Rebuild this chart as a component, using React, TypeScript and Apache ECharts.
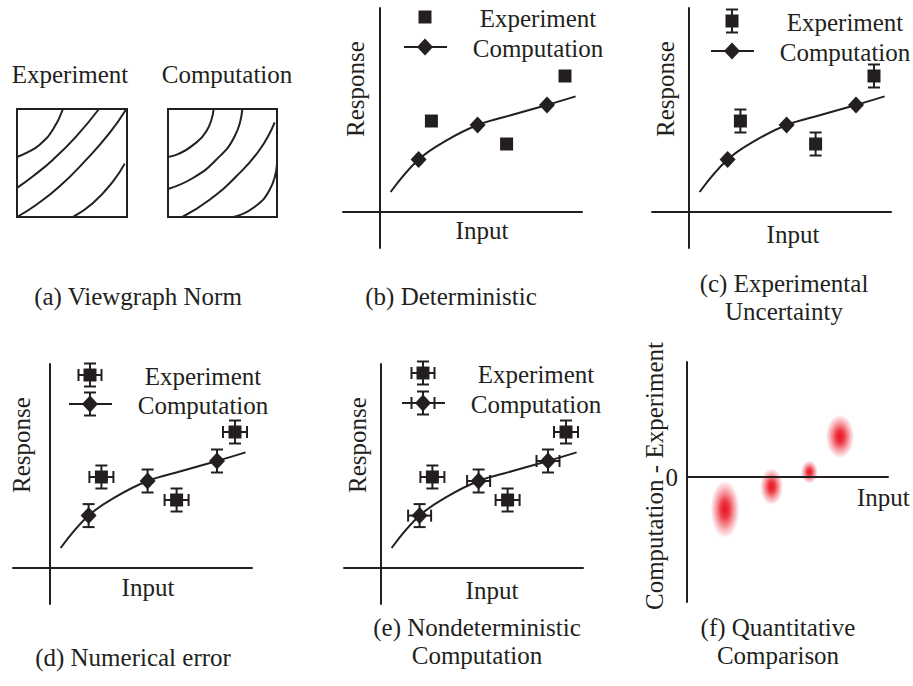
import React, { useEffect, useRef } from 'react';
import * as echarts from 'echarts';

const INK = '#231f20';
const FONT = '"Liberation Serif", "Times New Roman", Times, serif';
const FONT_SIZE = 25;
const CAP = 6;

// (a) Viewgraph norm: contour lines of the two fields, unit-square coordinates [x, y]
const experimentContour1 = [[0.418, 1], [0.327, 0.81], [0.206, 0.67], [0.085, 0.593], [0, 0.556]];
const experimentContour2 = [[0.745, 1], [0.539, 0.747], [0.327, 0.531], [0.145, 0.377], [0, 0.269]];
const experimentContour3 = [[0.994, 1], [0.842, 0.778], [0.63, 0.531], [0.388, 0.284], [0.176, 0.114], [0, 0]];
const experimentContour4 = [[0.979, 0.494], [0.873, 0.33], [0.691, 0.13], [0.509, 0]];
const computationContour1 = [[0.419, 1], [0.352, 0.793], [0.214, 0.654], [0.092, 0.583], [0, 0.556]];
const computationContour2 = [[0.682, 1], [0.612, 0.747], [0.443, 0.531], [0.229, 0.361], [0, 0.26]];
const computationContour3 = [[0.979, 0.877], [0.841, 0.623], [0.627, 0.377], [0.382, 0.16], [0.131, 0]];
const computationContour4 = [[1, 0.485], [0.933, 0.253], [0.78, 0.083], [0.602, 0]];

// (b)-(e) Response versus input
const experimentInput = [2.57, 6.33, 9.25];
const experimentResponse = [4.55, 3.4, 6.8];
const experimentInputError = [0.6, 0.6, 0.6];
const experimentResponseError = [0.575, 0.575, 0.575];
const computationInput = [1.93, 4.88, 8.35];
const computationResponse = [2.62, 4.35, 5.35];
const computationInputError = [0.575, 0.575, 0.575];
const computationResponseError = [0.575, 0.575, 0.575];
const modelInput = [0.53, 1.93, 3.33, 4.88, 6.58, 8.35, 9.78];
const modelResponse = [1.0, 2.62, 3.58, 4.35, 4.85, 5.35, 5.78];

// (f) Computation minus experiment, with spread of the difference
const comparisonInput = [1.9, 4.23, 6.12, 7.65];
const comparisonDifference = [-1.62, -0.48, 0.25, 2.02];
const comparisonInputSpread = [0.76, 0.6, 0.44, 0.74];
const comparisonDifferenceSpread = [1.5, 0.96, 0.6, 1.14];

const captionStyle = {
  fontFamily: FONT,
  fontSize: FONT_SIZE,
  fontWeight: 'normal' as const,
  color: INK,
  lineHeight: 28,
};

const barStyle = { stroke: INK, lineWidth: 2 };

function barShapes(cx: number, cy: number, dx: number, dy: number) {
  const out: any[] = [];
  if (dy > 0) {
    out.push({ type: 'line', shape: { x1: cx, y1: cy - dy, x2: cx, y2: cy + dy }, style: barStyle });
    out.push({ type: 'line', shape: { x1: cx - CAP, y1: cy - dy, x2: cx + CAP, y2: cy - dy }, style: barStyle });
    out.push({ type: 'line', shape: { x1: cx - CAP, y1: cy + dy, x2: cx + CAP, y2: cy + dy }, style: barStyle });
  }
  if (dx > 0) {
    out.push({ type: 'line', shape: { x1: cx - dx, y1: cy, x2: cx + dx, y2: cy }, style: barStyle });
    out.push({ type: 'line', shape: { x1: cx - dx, y1: cy - CAP, x2: cx - dx, y2: cy + CAP }, style: barStyle });
    out.push({ type: 'line', shape: { x1: cx + dx, y1: cy - CAP, x2: cx + dx, y2: cy + CAP }, style: barStyle });
  }
  return out;
}

// Axis origin of each response panel; name gaps are measured from the grid edge
const panelFrames = [
  { ox: 380, oy: 212, inputPad: 39, inputGap: -30.5, responseGap: -25 },
  { ox: 689, oy: 212, inputPad: 43, inputGap: -26.5, responseGap: -26 },
  { ox: 50, oy: 568, inputPad: 31, inputGap: -29, responseGap: -21 },
  { ox: 381, oy: 568, inputPad: 57, inputGap: -26, responseGap: -26 },
];

const panelErrors = [
  { expX: false, expY: false, compX: false, compY: false },
  { expX: false, expY: true, compX: false, compY: false },
  { expX: true, expY: true, compX: false, compY: true },
  { expX: true, expY: true, compX: true, compY: true },
];

const legendAnchors = [
  { mx: 425, y1: 17, y2: 47, tx: 538 },
  { mx: 732, y1: 21, y2: 51, tx: 845 },
  { mx: 90, y1: 375, y2: 404, tx: 203 },
  { mx: 423, y1: 373, y2: 403, tx: 536 },
];

function legendElements(i: number) {
  const a = legendAnchors[i];
  const e = panelErrors[i];
  const els: any[] = [];
  const err = 11.5;
  els.push(...barShapes(a.mx, a.y1, e.expX ? err : 0, e.expY ? err : 0));
  els.push({ type: 'rect', shape: { x: a.mx - 6.5, y: a.y1 - 6.5, width: 13, height: 13 }, style: { fill: INK } });
  els.push({ type: 'line', shape: { x1: a.mx - 21, y1: a.y2, x2: a.mx + 22, y2: a.y2 }, style: barStyle });
  els.push(...barShapes(a.mx, a.y2, e.compX ? err : 0, e.compY ? err : 0));
  els.push({
    type: 'polygon',
    shape: { points: [[a.mx, a.y2 - 8.5], [a.mx + 8, a.y2], [a.mx, a.y2 + 8.5], [a.mx - 8, a.y2]] },
    style: { fill: INK },
  });
  const ts = { fontFamily: FONT, fontSize: FONT_SIZE, fill: INK, align: 'center', verticalAlign: 'middle' };
  els.push({ type: 'text', x: a.tx, y: a.y1 + 1.5, style: { ...ts, text: 'Experiment' } });
  els.push({ type: 'text', x: a.tx, y: a.y2 + 1.5, style: { ...ts, text: 'Computation' } });
  return els.map((el) => ({ ...el, silent: true }));
}

function buildOption(): any {
  const grids: any[] = [
    { left: 17, top: 109, width: 110, height: 108, show: true, borderColor: INK, borderWidth: 2, backgroundColor: 'transparent', outerBoundsMode: 'none' },
    { left: 168, top: 109, width: 109, height: 108, show: true, borderColor: INK, borderWidth: 2, backgroundColor: 'transparent', outerBoundsMode: 'none' },
    ...panelFrames.map((p) => ({ left: p.ox - 37, top: p.oy - 204, width: 239, height: 240, outerBoundsMode: 'none' })),
    { left: 687, top: 362, width: 201, height: 240, outerBoundsMode: 'none' },
  ];

  const hiddenAxis = (gridIndex: number) => ({ type: 'value', gridIndex, min: 0, max: 1, show: false });
  const axisLine = { show: true, onZero: true, lineStyle: { color: INK, width: 2 } };
  const nameStyle = { fontFamily: FONT, fontSize: FONT_SIZE, color: INK };

  const xAxes: any[] = [hiddenAxis(0), hiddenAxis(1)];
  const yAxes: any[] = [hiddenAxis(0), hiddenAxis(1)];

  panelFrames.forEach((p, i) => {
    xAxes.push({
      type: 'value', gridIndex: i + 2, min: -1.85, max: 10.1,
      axisLine, axisTick: { show: false }, axisLabel: { show: false }, splitLine: { show: false },
      name: 'Input', nameLocation: 'middle', nameGap: p.inputGap, nameMoveOverlap: false,
      nameTextStyle: { ...nameStyle, verticalAlign: 'top', padding: [0, 0, 0, p.inputPad] },
    });
    yAxes.push({
      type: 'value', gridIndex: i + 2, min: -1.8, max: 10.2,
      axisLine, axisTick: { show: false }, axisLabel: { show: false }, splitLine: { show: false },
      name: 'Response', nameLocation: 'middle', nameGap: p.responseGap, nameMoveOverlap: false,
      nameTextStyle: { ...nameStyle, padding: [0, 0, 0, 78] },
    });
  });

  xAxes.push({
    type: 'value', gridIndex: 6, min: 0, max: 10.05, z: 5,
    axisLine, axisTick: { show: false }, axisLabel: { show: false }, splitLine: { show: false },
    name: 'Input', nameLocation: 'end', nameGap: -31, nameMoveOverlap: false,
    nameTextStyle: { ...nameStyle, align: 'left', verticalAlign: 'top', padding: [8, 0, 0, 0] },
  });
  yAxes.push({
    type: 'value', gridIndex: 6, min: -6.25, max: 5.75, z: 5,
    axisLine, axisTick: { show: false }, splitLine: { show: false },
    axisLabel: {
      show: true, customValues: [0], margin: 9,
      formatter: (v: number) => (v === 0 ? '0' : ''),
      fontFamily: FONT, fontSize: FONT_SIZE, color: INK,
    },
    name: 'Computation - Experiment', nameLocation: 'middle', nameGap: 20, nameMoveOverlap: false,
    nameTextStyle: { ...nameStyle, padding: [0, 0, 0, 12] },
  });

  const contourSeries = (gridIndex: number, lines: number[][][]) =>
    lines.map((d) => ({
      type: 'line', xAxisIndex: gridIndex, yAxisIndex: gridIndex, data: d,
      smooth: 0.5, showSymbol: false, symbol: 'none', clip: true, silent: true,
      lineStyle: { color: INK, width: 2 },
    }));

  const series: any[] = [
    ...contourSeries(0, [experimentContour1, experimentContour2, experimentContour3, experimentContour4]),
    ...contourSeries(1, [computationContour1, computationContour2, computationContour3, computationContour4]),
  ];

  const errorBarRender = (_params: any, api: any) => {
    const c = api.coord([api.value(0), api.value(1)]);
    const s = api.size([api.value(2), api.value(3)]);
    return { type: 'group', children: barShapes(c[0], c[1], s[0], s[1]) };
  };

  panelFrames.forEach((_p, i) => {
    const g = i + 2;
    const e = panelErrors[i];
    series.push({
      name: 'Model', type: 'line', xAxisIndex: g, yAxisIndex: g,
      data: modelInput.map((x, k) => [x, modelResponse[k]]),
      smooth: 0.4, showSymbol: false, symbol: 'none', silent: true,
      lineStyle: { color: INK, width: 2 }, z: 2,
    });
    if (e.expX || e.expY) {
      series.push({
        name: 'Experiment uncertainty', type: 'custom', xAxisIndex: g, yAxisIndex: g,
        encode: { x: 0, y: 1 }, silent: true, z: 3,
        data: experimentInput.map((x, k) => [
          x, experimentResponse[k],
          e.expX ? experimentInputError[k] : 0,
          e.expY ? experimentResponseError[k] : 0,
        ]),
        renderItem: errorBarRender,
      });
    }
    if (e.compX || e.compY) {
      series.push({
        name: 'Computation uncertainty', type: 'custom', xAxisIndex: g, yAxisIndex: g,
        encode: { x: 0, y: 1 }, silent: true, z: 3,
        data: computationInput.map((x, k) => [
          x, computationResponse[k],
          e.compX ? computationInputError[k] : 0,
          e.compY ? computationResponseError[k] : 0,
        ]),
        renderItem: errorBarRender,
      });
    }
    series.push({
      name: 'Computation', type: 'scatter', xAxisIndex: g, yAxisIndex: g,
      data: computationInput.map((x, k) => [x, computationResponse[k]]),
      symbol: 'diamond', symbolSize: [16, 17], itemStyle: { color: INK, opacity: 1 }, silent: true, z: 4,
    });
    series.push({
      name: 'Experiment', type: 'scatter', xAxisIndex: g, yAxisIndex: g,
      data: experimentInput.map((x, k) => [x, experimentResponse[k]]),
      symbol: 'rect', symbolSize: 13, itemStyle: { color: INK, opacity: 1 }, silent: true, z: 4,
    });
  });

  // Soft red spot: solid core fading out to the ellipse rim
  const blobFill = new echarts.graphic.RadialGradient(0.5, 0.5, 0.5, [
    { offset: 0, color: 'rgba(232, 18, 30, 1)' },
    { offset: 0.3, color: 'rgba(235, 40, 52, 0.9)' },
    { offset: 0.6, color: 'rgba(240, 90, 102, 0.6)' },
    { offset: 0.85, color: 'rgba(246, 150, 160, 0.3)' },
    { offset: 1, color: 'rgba(255, 255, 255, 0)' },
  ]);

  series.push({
    name: 'Computation - Experiment', type: 'custom', xAxisIndex: 6, yAxisIndex: 6,
    encode: { x: 0, y: 1 }, silent: true, z: 1,
    data: comparisonInput.map((x, k) => [x, comparisonDifference[k], comparisonInputSpread[k], comparisonDifferenceSpread[k]]),
    renderItem: (_params: any, api: any) => {
      const c = api.coord([api.value(0), api.value(1)]);
      const s = api.size([api.value(2), api.value(3)]);
      return {
        type: 'circle', x: c[0], y: c[1], scaleX: 1, scaleY: s[1] / s[0],
        shape: { cx: 0, cy: 0, r: s[0] },
        style: { fill: blobFill },
      };
    },
  });

  const title = [
    { text: 'Experiment', left: 70, top: 60 },
    { text: 'Computation', left: 227, top: 60 },
    { text: '(a) Viewgraph Norm', left: 138, top: 282 },
    { text: '(b) Deterministic', left: 451, top: 282 },
    { text: '(c) Experimental\nUncertainty', left: 784, top: 269 },
    { text: '(d) Numerical error', left: 133, top: 643 },
    { text: '(e) Nondeterministic\nComputation', left: 477, top: 613 },
    { text: '(f) Quantitative\nComparison', left: 778, top: 613 },
  ].map((t) => ({ ...t, textAlign: 'center', padding: 0, textStyle: captionStyle }));

  return {
    animation: false,
    backgroundColor: '#ffffff',
    title,
    grid: grids,
    xAxis: xAxes,
    yAxis: yAxes,
    series,
    graphic: { elements: [0, 1, 2, 3].flatMap((i) => legendElements(i)) },
  };
}

export default function App() {
  const ref = useRef<HTMLDivElement>(null);
  useEffect(() => {
    if (!ref.current) return;
    const chart = echarts.init(ref.current, undefined, { renderer: 'svg' });
    chart.setOption(buildOption());
    return () => chart.dispose();
  }, []);
  return (
    <div
      ref={ref}
      style={{ position: 'absolute', left: 0, top: 0, width: 913, height: 686, background: '#ffffff' }}
    />
  );
}
